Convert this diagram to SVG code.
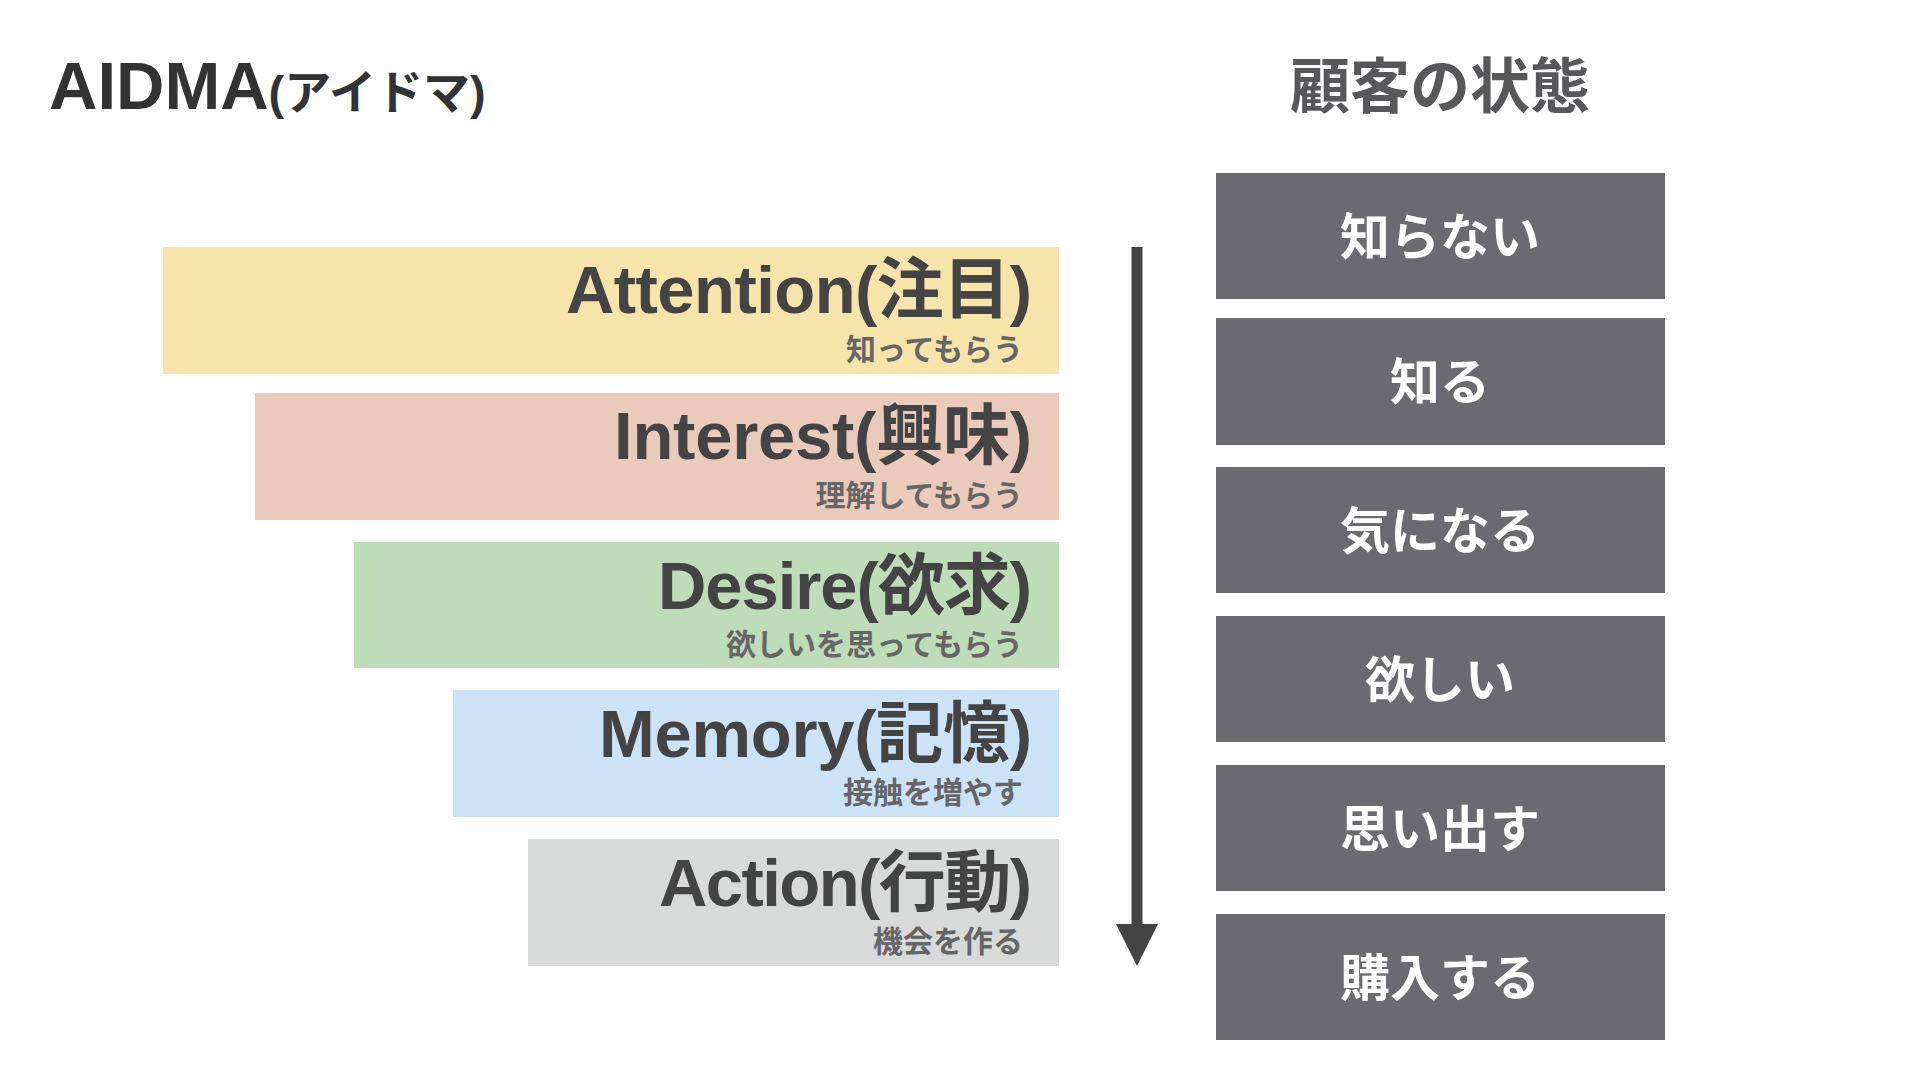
<svg xmlns="http://www.w3.org/2000/svg" width="1920" height="1080" viewBox="0 0 1920 1080">
  <style>
    .title { font-family: "Liberation Sans", "Noto Sans CJK JP", sans-serif; font-weight: bold; fill: #333333; }
    .head { font-family: "Noto Sans CJK JP", sans-serif; font-weight: bold; fill: #58585b; font-size: 60px; text-anchor: middle; }
    .main { font-family: "Liberation Sans", "Noto Sans CJK JP", sans-serif; font-weight: bold; fill: #444444; font-size: 67px; text-anchor: end; }
    .sub { font-family: "Noto Sans CJK JP", sans-serif; font-weight: bold; fill: #666666; font-size: 30px; text-anchor: end; }
    .state rect { fill: #6b6a70; }
    .state text { font-family: "Noto Sans CJK JP", sans-serif; font-weight: bold; fill: #ffffff; font-size: 50px; text-anchor: middle; }
  </style>
  <rect width="1920" height="1080" fill="#ffffff"/>

  <g id="title-aidma">
    <text class="title" x="49" y="109" font-size="67">AIDMA<tspan font-size="47">(アイドマ)</tspan></text>
  </g>
  <g id="title-state">
    <text class="head" x="1440" y="108">顧客の状態</text>
  </g>

  <g id="attention">
    <rect x="163" y="247" width="896" height="127" fill="#f6e4ab"/>
    <text class="main" x="1032" y="313" textLength="466" lengthAdjust="spacing">Attention(注目)</text>
    <text class="sub" x="1023" y="360">知ってもらう</text>
  </g>
  <g id="interest">
    <rect x="255" y="393" width="804" height="127" fill="#eacabb"/>
    <text class="main" x="1032" y="459" textLength="418" lengthAdjust="spacing">Interest(興味)</text>
    <text class="sub" x="1023" y="506">理解してもらう</text>
  </g>
  <g id="desire">
    <rect x="354" y="542" width="705" height="126" fill="#bddcb7"/>
    <text class="main" x="1032" y="609" textLength="374" lengthAdjust="spacing">Desire(欲求)</text>
    <text class="sub" x="1023" y="655">欲しいを思ってもらう</text>
  </g>
  <g id="memory">
    <rect x="453" y="690" width="606" height="127" fill="#cce2f7"/>
    <text class="main" x="1032" y="757" textLength="433" lengthAdjust="spacing">Memory(記憶)</text>
    <text class="sub" x="1023" y="803">接触を増やす</text>
  </g>
  <g id="action">
    <rect x="528" y="839" width="531" height="127" fill="#d8d9d9"/>
    <text class="main" x="1032" y="906" textLength="373" lengthAdjust="spacing">Action(行動)</text>
    <text class="sub" x="1023" y="952">機会を作る</text>
  </g>

  <g id="connectors">
    <line x1="1137" y1="247" x2="1137" y2="930" stroke="#444444" stroke-width="11"/>
    <polygon points="1116,924 1158,924 1137,966" fill="#444444"/>
  </g>

  <g id="state-1" class="state">
    <rect x="1216" y="173" width="449" height="126"/>
    <text x="1440" y="255">知らない</text>
  </g>
  <g id="state-2" class="state">
    <rect x="1216" y="318" width="449" height="127"/>
    <text x="1440" y="400">知る</text>
  </g>
  <g id="state-3" class="state">
    <rect x="1216" y="467" width="449" height="126"/>
    <text x="1440" y="549">気になる</text>
  </g>
  <g id="state-4" class="state">
    <rect x="1216" y="616" width="449" height="126"/>
    <text x="1440" y="698">欲しい</text>
  </g>
  <g id="state-5" class="state">
    <rect x="1216" y="765" width="449" height="126"/>
    <text x="1440" y="847">思い出す</text>
  </g>
  <g id="state-6" class="state">
    <rect x="1216" y="914" width="449" height="126"/>
    <text x="1440" y="996">購入する</text>
  </g>
</svg>
